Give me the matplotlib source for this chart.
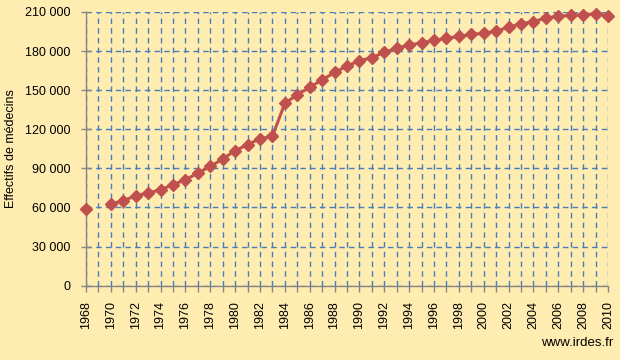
import matplotlib
matplotlib.use("Agg")
import matplotlib.pyplot as plt
import numpy as np

# Effectifs de médecins en France, 1968-2010 (1969 non disponible)
annees = list(range(1968, 2011))
effectifs = [59000, np.nan, 62600, 65200, 69000, 71100, 73600, 77500, 81300, 86400,
             91500, 97200, 103600, 108200, 112800, 114600, 140000, 146400, 152300, 157900,
             163600, 168500, 172600, 174900, 179000, 182300, 184600, 186400, 188200, 189700,
             191300, 192800, 193600, 195400, 198200, 201000, 202600, 205400, 206700, 207400,
             207900, 208700, 207200]
y_ticks = list(range(0, 210001, 30000))
y_labels = ["{:,}".format(v).replace(",", " ") for v in y_ticks]

fond = "#FFECB0"
rouge = "#C0504D"
bleu = "#4A7EBB"
gris = "#868686"

plt.rcParams['font.family'] = ['Liberation Sans', 'DejaVu Sans']

fig = plt.figure(figsize=(6.2, 3.6), dpi=100, facecolor=fond)
ax = fig.add_axes([0.1387, 0.2064, 0.8419, 0.7603], facecolor=fond)

ax.plot(annees, effectifs, color=rouge, lw=2.2, marker='D', markersize=6,
        markeredgecolor=rouge, zorder=3, clip_on=False)

ax.set_xlim(1968, 2010)
ax.set_ylim(0, 210000)
ax.set_xticks(range(1968, 2011, 2))
ax.set_xticks(range(1968, 2011), minor=True)
ax.set_xticklabels([str(a) for a in range(1968, 2011, 2)], rotation=90, fontsize=9)
ax.set_yticks(y_ticks)
ax.set_yticklabels(y_labels, fontsize=9)

ax.grid(True, which='both', axis='x', color=bleu, ls=(0, (4, 3)), lw=1)
ax.grid(True, which='major', axis='y', color=bleu, ls=(0, (4, 3)), lw=1)
ax.set_axisbelow(True)

for s in ['top', 'right']:
    ax.spines[s].set_visible(False)
for s in ['left', 'bottom']:
    ax.spines[s].set_color(gris)
    ax.spines[s].set_linewidth(1)

ax.tick_params(axis='x', which='both', direction='out', length=4, color=gris, width=1, pad=7)
ax.tick_params(axis='y', direction='inout', length=7, color=gris, width=1, pad=7.5)

ax.set_ylabel('Effectifs de médecins', fontsize=9)
ax.yaxis.set_label_coords(-0.133, 0.5)

fig.text(0.989, 0.047, 'www.irdes.fr', ha='right', va='center', fontsize=9.5)

fig.savefig('out.png', dpi=100, facecolor=fond)
